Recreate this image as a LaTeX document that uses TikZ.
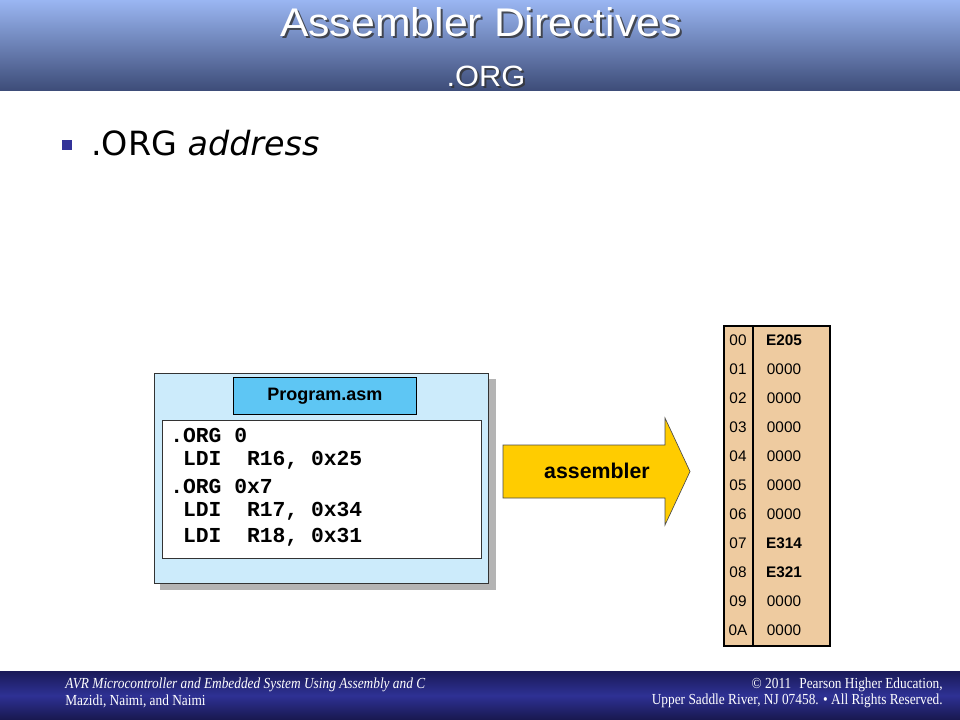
\documentclass[tikz,border=0pt]{standalone}
\usepackage{fontspec}
\setmainfont{Liberation Serif}
\setsansfont{Liberation Sans}
\setmonofont{Liberation Mono}
\newfontfamily\dejavu{DejaVu Sans}
\usetikzlibrary{shapes.geometric}
\definecolor{hdtop}{HTML}{9AB6F2}
\definecolor{hdbot}{HTML}{3D4C78}
\definecolor{fttop}{HTML}{1A1A58}
\definecolor{ftmid}{HTML}{2E3194}
\definecolor{ftbot}{HTML}{18184E}
\definecolor{bulletblue}{HTML}{333399}
\definecolor{boxblue}{HTML}{CCEBFB}
\definecolor{titleblue}{HTML}{5EC6F4}
\definecolor{arrowyellow}{HTML}{FFCC00}
\definecolor{memtan}{HTML}{EECBA0}
\definecolor{shadowgray}{HTML}{B4B4B4}
\tikzset{
  memaddr/.style={font=\sffamily\fontsize{11.5}{13}\selectfont, anchor=center},
  memdata/.style={font=\sffamily\fontsize{11.5}{13}\selectfont, anchor=center},
  memdatab/.style={font=\sffamily\bfseries\fontsize{11.5}{13}\selectfont, anchor=center},
  codeline/.style={font=\ttfamily\bfseries\fontsize{16}{18}\selectfont, anchor=west, inner sep=0pt},
  foot/.style={font=\rmfamily\fontsize{11.5}{13}\selectfont, text=white, inner sep=0pt}
}
\begin{document}
\begin{tikzpicture}[x=0.75pt,y=-0.75pt]
\useasboundingbox (0,0) rectangle (960,720);
\fill[white] (0,0) rectangle (960,720);
% header
\shade[top color=hdtop, bottom color=hdbot] (0,0) rectangle (960,91);
\node[font=\sffamily\fontsize{30}{34}\selectfont, text=black!80, opacity=0.8] at (483,24) {\scalebox{1.07}[1]{Assembler Directives}};
\node[font=\sffamily\fontsize{30}{34}\selectfont, text=white] (title) at (481,22) {\scalebox{1.07}[1]{Assembler Directives}};
\node[font=\sffamily\fontsize{22}{26}\selectfont, text=black!80, opacity=0.8] at (488,78) {\scalebox{1.05}[1]{.ORG}};
\node[font=\sffamily\fontsize{22}{26}\selectfont, text=white] (subtitle) at (486,76) {\scalebox{1.05}[1]{.ORG}};
% bullet
\fill[bulletblue] (62,140) rectangle (72,150);
\node[anchor=west, font=\dejavu\fontsize{25}{29}\selectfont, inner sep=0pt] (bul) at (91,143) {.ORG \textit{address}};
% program box
\fill[shadowgray] (160,379) rectangle (496,590);
\node[draw=black!80, fill=boxblue, line width=0.6pt, minimum width=334*0.75pt, minimum height=210*0.75pt, anchor=north west, inner sep=0pt] (prog) at (154,373) {};
\node[draw=black, fill=titleblue, line width=0.6pt, minimum width=183*0.75pt, minimum height=37*0.75pt, anchor=north west, inner sep=0pt, font=\sffamily\bfseries\fontsize{13.5}{16}\selectfont] (ptitle) at (233,377) {Program.asm};
\node[draw=black!80, fill=white, line width=0.6pt, minimum width=319*0.75pt, minimum height=138*0.75pt, anchor=north west, inner sep=0pt] (code) at (162,420) {};
\node[codeline] (c1) at (170,435) {.ORG 0};
\node[codeline] (c2) at (170,460.5) {\hspace*{0.6em}LDI\hspace*{1.2em}R16,\hspace*{0.6em}0x25};
\node[codeline] (c3) at (170,486) {.ORG 0x7};
\node[codeline] (c4) at (170,511.5) {\hspace*{0.6em}LDI\hspace*{1.2em}R17,\hspace*{0.6em}0x34};
\node[codeline] (c5) at (170,537) {\hspace*{0.6em}LDI\hspace*{1.2em}R18,\hspace*{0.6em}0x31};
% assembler arrow
\filldraw[fill=arrowyellow, draw=black!70, line width=0.5pt] (503,445) -- (665,445) -- (665,418) -- (690,471.5) -- (665,525) -- (665,498) -- (503,498) -- cycle;
\node[font=\sffamily\bfseries\fontsize{16}{19}\selectfont] (asm) at (597,471) {assembler};
% memory
\node[draw=black, fill=memtan, line width=1.5pt, minimum width=106*0.75pt, minimum height=320*0.75pt, anchor=north west, inner sep=0pt] (mem) at (723,325) {};
\draw[line width=1.4pt] (753,325) -- (753,645);
\foreach \a/\d/\s [count=\i from 0] in {00/E205/memdatab,01/0000/memdata,02/0000/memdata,03/0000/memdata,04/0000/memdata,05/0000/memdata,06/0000/memdata,07/E314/memdatab,08/E321/memdatab,09/0000/memdata,0A/0000/memdata}{
  \node[memaddr] (a\i) at (738,340+29*\i) {\a};
  \node[\s] (d\i) at (784,340+29*\i) {\d};
}
% footer
\shade[top color=fttop, bottom color=ftbot, middle color=ftmid] (0,671) rectangle (960,720);
\node[foot, anchor=west] (f1) at (65,685) {\scalebox{0.87}[1]{\itshape AVR Microcontroller and Embedded System Using Assembly and C}};
\node[foot, anchor=west] (f2) at (65,701) {\scalebox{0.87}[1]{Mazidi, Naimi, and Naimi}};
\node[foot, anchor=east] (f3) at (943,685) {\scalebox{0.87}[1]{© 2011\hspace*{0.6em}Pearson Higher Education,}};
\node[foot, anchor=east] (f4) at (943,701) {\scalebox{0.87}[1]{Upper Saddle River, NJ 07458. • All Rights Reserved.}};
\end{tikzpicture}
\end{document}
